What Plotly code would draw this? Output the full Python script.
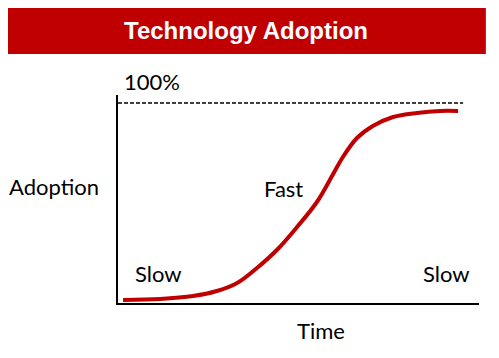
import plotly.graph_objects as go

# S-curve data (time 0..100, adoption 0..100%)
time = [1.4, 11.6, 20.8, 27.4, 33.0, 38.5, 44.0, 49.6, 55.1, 59.6, 62.3, 66.2,
        70.6, 76.2, 82.8, 89.2, 94.2]
adoption = [1.5, 2.0, 3.5, 6.0, 10.0, 17.5, 26.5, 38.0, 50.5, 64.5, 73.0, 82.5,
            88.5, 93.0, 95.0, 96.0, 96.0]

title_text = "Technology Adoption"
ceiling_label = "100%"
ceiling_value = 100
ceiling_end = 95.6
x_label = "Time"
y_label = "Adoption"
phase_labels = ["Slow", "Fast", "Slow"]
phase_x = [11.3, 45.8, 90.9]
phase_y = [15, 57.5, 15]

RED = "#C00000"
FONT = "Lato, 'Open Sans', sans-serif"
FS = 22

fig = go.Figure()
fig.add_trace(go.Scatter(
    x=time, y=adoption, mode="lines",
    line=dict(color=RED, width=4, shape="spline", smoothing=1.0),
    hoverinfo="skip", showlegend=False,
))

fig.update_layout(
    width=483, height=342,
    margin=dict(l=110, r=12, t=87, b=47, autoexpand=False),
    paper_bgcolor="white", plot_bgcolor="white",
    xaxis=dict(range=[0, 100], showline=True, linecolor="black", linewidth=1.5,
               showgrid=False, zeroline=False, showticklabels=False, ticks=""),
    yaxis=dict(range=[0, 104], showline=True, linecolor="black", linewidth=1.5,
               showgrid=False, zeroline=False, showticklabels=False, ticks=""),
    shapes=[
        dict(type="rect", xref="paper", yref="paper", x0=-0.305, x1=1.019,
             y0=1.197, y1=1.423, fillcolor=RED, line=dict(width=0), layer="below"),
        dict(type="line", xref="x", yref="y", x0=0, x1=ceiling_end,
             y0=ceiling_value, y1=ceiling_value,
             line=dict(color="black", width=1.5, dash="4px,2px")),
    ],
)

ann = [
    dict(text="<b>" + title_text + "</b>", xref="paper", yref="paper", x=0.355, y=1.31,
         font=dict(family="'Liberation Sans', Arial, sans-serif", size=24, color="white")),
    dict(text=ceiling_label, xref="paper", yref="paper", x=0.094, y=1.065,
         font=dict(family=FONT, size=FS, color="black")),
    dict(text=y_label, xref="paper", yref="paper", x=-0.178, y=0.56,
         font=dict(family=FONT, size=FS, color="black")),
    dict(text=x_label, xref="paper", yref="paper", x=0.562, y=-0.13,
         font=dict(family=FONT, size=FS, color="black")),
]
for t, x, y in zip(phase_labels, phase_x, phase_y):
    ann.append(dict(text=t, xref="x", yref="y", x=x, y=y,
                    font=dict(family=FONT, size=FS, color="black")))
for a in ann:
    a.update(showarrow=False, xanchor="center", yanchor="middle")
fig.update_layout(annotations=ann)

fig.write_html("out.html")
